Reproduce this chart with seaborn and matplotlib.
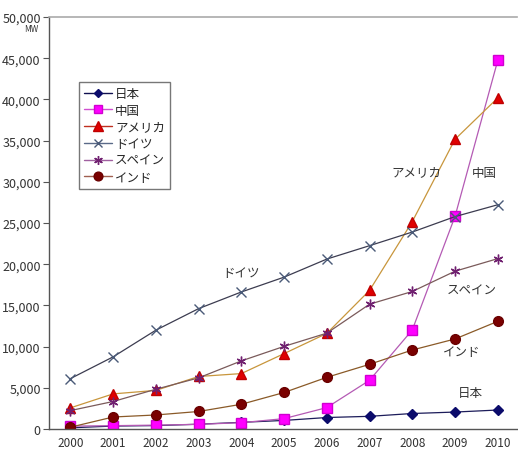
import matplotlib
matplotlib.use("Agg")
import matplotlib.pyplot as plt
from matplotlib.lines import Line2D
from matplotlib.ticker import FuncFormatter, MultipleLocator
import seaborn as sns
import pandas as pd

years = [2000, 2001, 2002, 2003, 2004, 2005, 2006, 2007, 2008, 2009, 2010]

japan = [142, 357, 415, 580, 809, 1040, 1394, 1538, 1880, 2056, 2304]
china = [352, 404, 470, 568, 764, 1260, 2599, 5912, 12020, 25805, 44733]
usa = [2564, 4261, 4685, 6372, 6725, 9149, 11603, 16819, 25170, 35159, 40180]
germany = [6113, 8754, 11994, 14609, 16629, 18428, 20622, 22247, 23903, 25777, 27214]
spain = [2235, 3337, 4825, 6203, 8264, 10028, 11630, 15145, 16689, 19149, 20676]
india = [220, 1456, 1702, 2125, 3000, 4430, 6270, 7850, 9587, 10925, 13065]

names = ["日本", "中国", "アメリカ", "ドイツ", "スペイン", "インド"]
series = [japan, china, usa, germany, spain, india]

sns.set_style("white")
plt.rcParams["font.family"] = ["Noto Sans CJK JP", "DejaVu Sans"]

df = pd.DataFrame({
    "year": years * len(names),
    "country": [n for n in names for _ in years],
    "MW": [v for s in series for v in s],
})

# line colour, marker, marker face, marker edge, marker size, legend line colour
styles = {
    "日本": ("#1c1c5a", "D", "#0b0b6b", "#0b0b6b", 5, "#101050"),
    "中国": ("#b45ab4", "s", "#ff00ff", "#d000d0", 6.5, "#d050d0"),
    "アメリカ": ("#c8963c", "^", "#e00000", "#c00000", 7.5, "#c03020"),
    "ドイツ": ("#3c3c50", "x", "#4a5a78", "#4a5a78", 6.5, "#5a6a88"),
    "スペイン": ("#7a5a5a", (6, 2, 0), "#702070", "#702070", 7, "#a060a0"),
    "インド": ("#8a5a28", "o", "#7a0000", "#6a0000", 7, "#a06050"),
}

fig = plt.figure(figsize=(5.18, 4.52), dpi=100)
ax = fig.add_axes([49 / 518, 1 - 430 / 452, 468 / 518, 412 / 452])

for name in names:
    lc, mk, mfc, mec, ms, _ = styles[name]
    sub = df[df["country"] == name]
    sns.lineplot(data=sub, x="year", y="MW", ax=ax, color=lc, lw=0.9,
                 marker=mk, markersize=ms, markerfacecolor=mfc,
                 markeredgecolor=mec, markeredgewidth=1.0, legend=False)

ax.set_xlim(1999.5, 2010.45)
ax.set_ylim(0, 50000)
ax.set_xticks(years)
ax.set_xticks([y + 0.5 for y in years[:-1]], minor=True)
ax.yaxis.set_major_locator(MultipleLocator(5000))
ax.yaxis.set_major_formatter(FuncFormatter(lambda v, p: f"{int(v):,}"))
ax.tick_params(axis="x", which="major", length=0, labelsize=8.5, labelcolor="#333333", pad=5)
ax.tick_params(axis="x", which="minor", length=4, direction="in", color="#555555")
ax.tick_params(axis="y", length=4, direction="out", color="#555555", labelsize=9,
               labelcolor="#333333", pad=2, left=True)
ax.set_xlabel("")
ax.set_ylabel("")

for side in ["left", "bottom"]:
    ax.spines[side].set_color("#555555")
    ax.spines[side].set_linewidth(1.0)
ax.spines["top"].set_color("#aaaaaa")
ax.spines["top"].set_linewidth(1.2)
ax.spines["right"].set_visible(False)

fig.text(31 / 518, 1 - 30 / 452, "MW", fontsize=6, color="#333333", ha="center", va="center")

# Series labels
labels = [
    ("ドイツ", 2004.0, 19000),
    ("アメリカ", 2008.1, 31200),
    ("中国", 2009.68, 31100),
    ("スペイン", 2009.4, 16900),
    ("インド", 2009.15, 9350),
    ("日本", 2009.35, 4450),
]
for text, x, y in labels:
    ax.text(x, y, text, fontsize=9, color="#333333", ha="center", va="center")

handles = [
    Line2D([0], [0], color=styles[n][5], lw=1.0, marker=styles[n][1],
           markersize=styles[n][4] * 0.9, markerfacecolor=styles[n][2],
           markeredgecolor=styles[n][3])
    for n in names
]
leg = fig.legend(handles, names, loc="upper left",
                 bbox_to_anchor=(79 / 518, 1 - 83 / 452), fontsize=9,
                 frameon=True, fancybox=False, handlelength=2.2, handletextpad=0.3,
                 borderpad=0.4, labelspacing=0.3, borderaxespad=0)
leg.get_frame().set_edgecolor("#555555")
leg.get_frame().set_linewidth(1.0)

fig.savefig("out.png", dpi=100)
